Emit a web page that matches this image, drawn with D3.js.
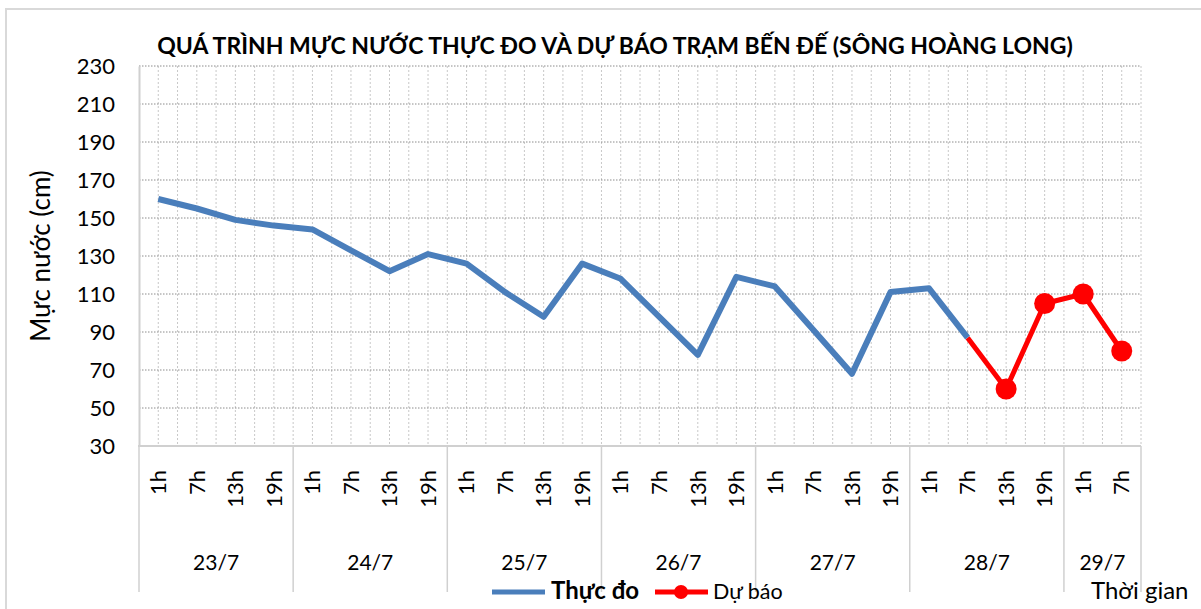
<!DOCTYPE html>
<html>
<head>
<meta charset="utf-8">
<script src="https://cdn.jsdelivr.net/npm/d3@7"></script>
<style>
  body { margin: 0; background: #fff; }
  svg { display: block; font-family: Lato, "Noto Sans", sans-serif; }
</style>
</head>
<body>
<div id="chart-area"></div>
<script>
// data
const days = ['23/7', '24/7', '25/7', '26/7', '27/7', '28/7', '29/7'];
const hours = ['1h', '7h', '13h', '19h'];
const lastDayHours = ['1h', '7h'];
const observed = [160, 155, 149, 146, 144, 133, 122, 131, 126, 111, 98, 126, 118, 98, 78, 119, 114, 91, 68, 111, 113, 87,
  null, null, null, null];
const forecast = [null, null, null, null, null, null, null, null, null, null, null, null, null, null, null, null, null, null, null, null, null, 87,
  60, 105, 110, 80];
const forecastMarkerFrom = 22;
const yTicks = [30, 50, 70, 90, 110, 130, 150, 170, 190, 210, 230];

const width = 1201;
const height = 609;
const margin = {top: 66, right: 60, bottom: 163, left: 139};

// categories = one per (day, hour)
const cats = [];
days.forEach((d, di) => {
  const hs = di === days.length - 1 ? lastDayHours : hours;
  hs.forEach(h => cats.push({key: d + ' ' + h, day: d, hour: h}));
});

const svg = d3.select('#chart-area')
  .append('svg')
  .attr('width', width)
  .attr('height', height);

// outer chart frame
svg.append('rect')
  .attr('x', 6).attr('y', 9)
  .attr('width', width + 20).attr('height', height + 20)
  .attr('fill', 'none')
  .attr('stroke', '#d9d9d9')
  .attr('stroke-width', 2);

const x = d3.scaleBand()
  .domain(cats.map(c => c.key))
  .range([margin.left, 1141])
  .padding(0);

const y = d3.scaleLinear()
  .domain([30, 230])
  .range([446, margin.top]);

const bw = x.bandwidth();
const cx = k => x(k) + bw / 2;

// vertical gridlines (boundaries and centres)
const vLines = [];
cats.forEach(c => { vLines.push(x(c.key)); vLines.push(cx(c.key)); });
vLines.push(x(cats[cats.length - 1].key) + bw);
svg.append('g')
  .selectAll('line')
  .data(vLines.slice(1))
  .join('line')
  .attr('x1', d => d).attr('x2', d => d)
  .attr('y1', y(230)).attr('y2', y(30))
  .attr('stroke', '#c8c8c8')
  .attr('stroke-width', 1)
  .attr('stroke-dasharray', '2,2');

// horizontal gridlines
svg.append('g')
  .selectAll('line')
  .data(yTicks.slice(1))
  .join('line')
  .attr('x1', x.range()[0]).attr('x2', x.range()[1])
  .attr('y1', d => y(d)).attr('y2', d => y(d))
  .attr('stroke', '#8c8c8c')
  .attr('stroke-width', 1)
  .attr('stroke-dasharray', '1.5,1.5');

// y axis
const yAxis = svg.append('g')
  .attr('transform', `translate(${margin.left},0)`)
  .call(d3.axisLeft(y).tickValues(yTicks).tickSize(0).tickPadding(24));
yAxis.select('.domain').attr('stroke', '#d0d0d0').attr('stroke-width', 2);
yAxis.selectAll('text')
  .attr('font-size', 22)
  .attr('font-family', 'Lato, sans-serif')
  .attr('fill', '#000');

// bottom axis line
svg.append('line')
  .attr('x1', margin.left - 1).attr('x2', 1141)
  .attr('y1', 446).attr('y2', 446)
  .attr('stroke', '#d0d0d0').attr('stroke-width', 2);

// left axis extension down through category labels
svg.append('line')
  .attr('x1', margin.left).attr('x2', margin.left)
  .attr('y1', 446).attr('y2', 592)
  .attr('stroke', '#d0d0d0').attr('stroke-width', 1.5);

// hour labels
svg.append('g')
  .selectAll('text')
  .data(cats)
  .join('text')
  .attr('transform', d => `translate(${cx(d.key)},470) rotate(-90)`)
  .attr('text-anchor', 'end')
  .attr('dy', '0.35em')
  .attr('font-size', 22)
  .text(d => d.hour);

// day groups
const dayGroups = days.map(d => {
  const ks = cats.filter(c => c.day === d);
  return {day: d, x0: x(ks[0].key), x1: x(ks[ks.length - 1].key) + bw};
});
svg.append('g')
  .selectAll('line')
  .data(dayGroups)
  .join('line')
  .attr('x1', d => d.x1).attr('x2', d => d.x1)
  .attr('y1', 446).attr('y2', 592)
  .attr('stroke', '#d0d0d0').attr('stroke-width', 1.5);
svg.append('g')
  .selectAll('text')
  .data(dayGroups)
  .join('text')
  .attr('x', d => (d.x0 + d.x1) / 2)
  .attr('y', 563)
  .attr('dy', '0.35em')
  .attr('text-anchor', 'middle')
  .attr('font-size', 21)
  .text(d => d.day);

// series
const line = d3.line()
  .defined(d => d.v != null)
  .x(d => cx(d.key))
  .y(d => y(d.v));

const obsData = cats.map((c, i) => ({key: c.key, v: observed[i]}));
const fcData = cats.map((c, i) => ({key: c.key, v: forecast[i], i: i}));

svg.append('path')
  .datum(fcData)
  .attr('fill', 'none')
  .attr('stroke', '#ff0000')
  .attr('stroke-width', 5)
  .attr('stroke-linejoin', 'round')
  .attr('d', line);

svg.append('path')
  .datum(obsData)
  .attr('fill', 'none')
  .attr('stroke', '#4a7ebb')
  .attr('stroke-width', 6)
  .attr('stroke-linejoin', 'round')
  .attr('d', line);

svg.append('g')
  .selectAll('circle')
  .data(fcData.filter(d => d.v != null && d.i >= forecastMarkerFrom))
  .join('circle')
  .attr('cx', d => cx(d.key))
  .attr('cy', d => y(d.v))
  .attr('r', 10.5)
  .attr('fill', '#ff0000');

// title
svg.append('text')
  .attr('x', 615)
  .attr('y', 54)
  .attr('text-anchor', 'middle')
  .attr('font-size', 23)
  .attr('font-weight', 'bold')
  .text('QUÁ TRÌNH MỰC NƯỚC THỰC ĐO VÀ DỰ BÁO TRẠM BẾN ĐẾ (SÔNG HOÀNG LONG)');

// y axis title
svg.append('text')
  .attr('transform', 'translate(50,256) rotate(-90)')
  .attr('text-anchor', 'middle')
  .attr('font-size', 26)
  .text('Mực nước (cm)');

// x axis title
svg.append('text')
  .attr('x', 1091)
  .attr('y', 599)
  .attr('font-size', 24)
  .text('Thời gian');

// legend
const lg = svg.append('g');
lg.append('line')
  .attr('x1', 492).attr('x2', 545).attr('y1', 592).attr('y2', 592)
  .attr('stroke', '#4a7ebb').attr('stroke-width', 5);
lg.append('text')
  .attr('x', 551).attr('y', 599)
  .attr('font-size', 24)
  .attr('font-weight', 'bold')
  .text('Thực đo');
lg.append('line')
  .attr('x1', 655).attr('x2', 708).attr('y1', 592).attr('y2', 592)
  .attr('stroke', '#ff0000').attr('stroke-width', 5);
lg.append('circle')
  .attr('cx', 681).attr('cy', 592).attr('r', 7)
  .attr('fill', '#ff0000');
lg.append('text')
  .attr('x', 713).attr('y', 599)
  .attr('font-size', 21.5)
  .text('Dự báo');
</script>
</body>
</html>
